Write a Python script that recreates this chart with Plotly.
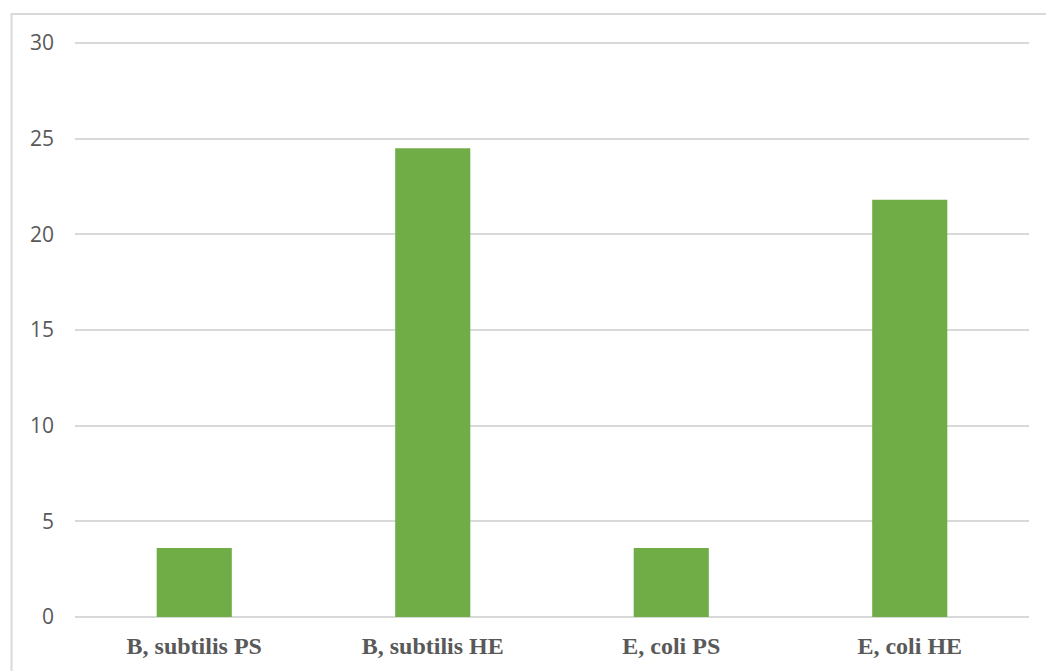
import plotly.graph_objects as go

# Samples and measured values
categories = ["B, subtilis PS", "B, subtilis HE", "E, coli PS", "E, coli HE"]
values = [3.6, 24.5, 3.6, 21.8]

y_ticks = [0, 5, 10, 15, 20, 25, 30]

BAR_GREEN = "#70AD47"
GRID = "#D9D9D9"
TEXT = "#595959"

fig = go.Figure(
    go.Bar(
        x=categories,
        y=values,
        marker=dict(color=BAR_GREEN, line=dict(width=0)),
        hoverinfo="x+y",
    )
)

fig.update_layout(
    width=1046,
    height=671,
    margin=dict(l=75, r=17, t=41, b=51),
    paper_bgcolor="white",
    plot_bgcolor="white",
    bargap=0.685,
    showlegend=False,
    shapes=[
        # outer chart frame (right and bottom edges fall outside the page)
        dict(
            type="rect",
            xref="paper",
            yref="paper",
            x0=-0.0665,
            x1=1.2,
            y0=-0.3,
            y1=1.047,
            line=dict(color=GRID, width=2),
            fillcolor="rgba(0,0,0,0)",
            layer="below",
        )
    ],
)

fig.update_xaxes(
    showgrid=False,
    showline=False,
    zeroline=False,
    ticks="",
    ticklabelstandoff=12,
    tickfont=dict(family="Liberation Serif", size=24, color=TEXT, weight="bold"),
)

fig.update_yaxes(
    range=[0, 30.1],
    tickvals=y_ticks,
    showgrid=True,
    gridcolor=GRID,
    gridwidth=2,
    zeroline=True,
    zerolinecolor=GRID,
    zerolinewidth=2,
    showline=False,
    ticks="",
    ticklabelstandoff=20,
    tickfont=dict(family="Open Sans", size=21, color=TEXT),
)

fig.write_html("out.html")
